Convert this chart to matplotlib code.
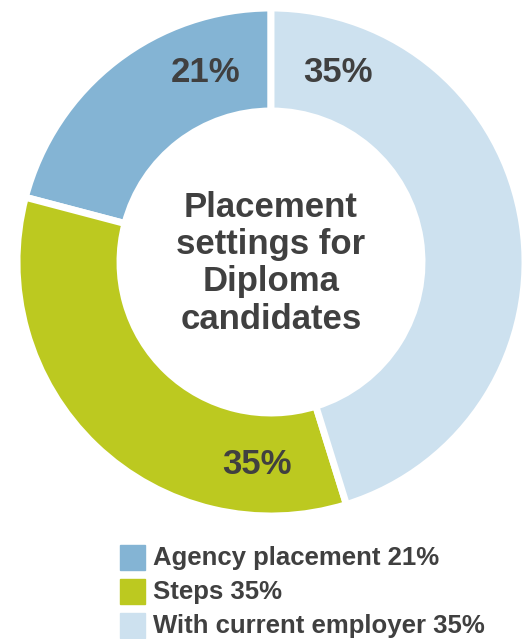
import numpy as np
import matplotlib.pyplot as plt
from matplotlib.patches import Rectangle

# Données
categories = ['Agency placement', 'Steps', 'With current employer']
shares = [20.9, 33.9, 45.2]            # parts angulaires visibles sur l'anneau
labels = ['21%', '35%', '35%']         # valeurs affichées
colors = ['#84b4d4', '#bcc920', '#cde1ef']
title = 'Placement\nsettings for\nDiploma\ncandidates'

W, H = 522, 639
cx, cy, R = 271, 262, 254
txt = '#404040'
plt.rcParams['font.family'] = ['Liberation Sans', 'DejaVu Sans']

fig = plt.figure(figsize=(W / 100, H / 100), dpi=100)
ax = fig.add_axes([(cx - R) / W, (H - cy - R) / H, 2 * R / W, 2 * R / H])
wedges, _ = ax.pie(shares, colors=colors, startangle=90, counterclock=True,
                   radius=1, wedgeprops=dict(width=103 / R, edgecolor='white', linewidth=5))
ax.set_xlim(-1, 1)
ax.set_ylim(-1, 1)
ax.set_aspect('equal')
ax.axis('off')

# étiquettes de pourcentage
label_pos = [(0.79, 109), (0.80, 266), (0.79, 70.5)]
for (r, th), lab in zip(label_pos, labels):
    t = np.radians(th)
    ax.text(r * np.cos(t), r * np.sin(t), lab, ha='center', va='center',
            fontsize=25, fontweight='bold', color=txt)

ax.text(0, -0.005, title, ha='center', va='center', fontsize=25,
        fontweight='bold', color=txt, linespacing=1.17)

# légende
for i, (cat, lab, col) in enumerate(zip(categories, labels, colors)):
    y0 = 545 + i * 34
    fig.patches.append(Rectangle((120 / W, 1 - (y0 + 25) / H), 25 / W, 25 / H,
                                 transform=fig.transFigure, color=col))
    fig.text(153 / W, 1 - (y0 + 12.5) / H, f'{cat} {lab}', ha='left', va='center',
             fontsize=18.5, fontweight='bold', color=txt)

fig.savefig('out.png', dpi=100)
